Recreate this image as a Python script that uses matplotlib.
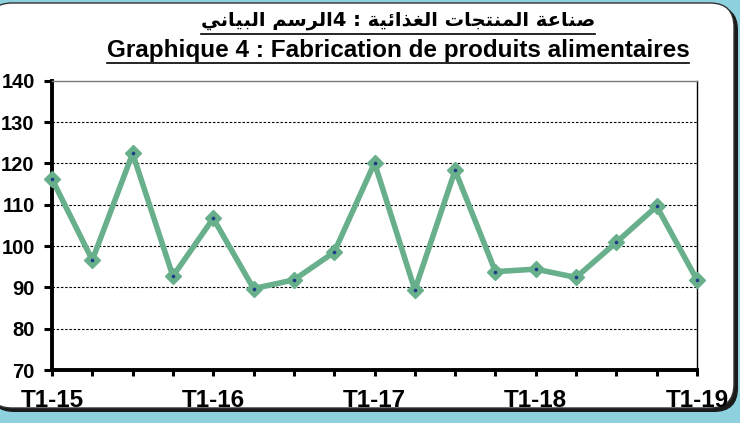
import matplotlib
matplotlib.use("Agg")
import matplotlib.pyplot as plt
from matplotlib.patches import FancyBboxPatch
from matplotlib.lines import Line2D

# ---------------- data ----------------
quarters = ["T1-15", "T2-15", "T3-15", "T4-15",
            "T1-16", "T2-16", "T3-16", "T4-16",
            "T1-17", "T2-17", "T3-17", "T4-17",
            "T1-18", "T2-18", "T3-18", "T4-18",
            "T1-19"]
values = [116.2, 96.6, 122.4, 92.7, 106.7, 89.7, 91.8, 98.5,
          120.1, 89.4, 118.3, 93.8, 94.4, 92.4, 100.9, 109.6, 91.8]
shown_labels = ["T1-15", "T1-16", "T1-17", "T1-18", "T1-19"]
y_ticks = [70, 80, 90, 100, 110, 120, 130, 140]

title_fr = "Graphique 4 : Fabrication de produits alimentaires"
title_ar = "صناعة المنتجات الغذائية : 4الرسم البياني"

LINE_COLOR = "#68af8b"

# ---------------- simple Arabic shaping (visual order) ----------------
FORMS = {  # iso, fin, ini, med
    "ص": ("\uFEB9", "\uFEBA", "\uFEBB", "\uFEBC"),
    "ن": ("\uFEE5", "\uFEE6", "\uFEE7", "\uFEE8"),
    "ا": ("\uFE8D", "\uFE8E", None, None),
    "ع": ("\uFEC9", "\uFECA", "\uFECB", "\uFECC"),
    "ة": ("\uFE93", "\uFE94", None, None),
    "ل": ("\uFEDD", "\uFEDE", "\uFEDF", "\uFEE0"),
    "م": ("\uFEE1", "\uFEE2", "\uFEE3", "\uFEE4"),
    "ت": ("\uFE95", "\uFE96", "\uFE97", "\uFE98"),
    "ج": ("\uFE9D", "\uFE9E", "\uFE9F", "\uFEA0"),
    "غ": ("\uFECD", "\uFECE", "\uFECF", "\uFED0"),
    "ذ": ("\uFEAB", "\uFEAC", None, None),
    "ئ": ("\uFE89", "\uFE8A", "\uFE8B", "\uFE8C"),
    "ي": ("\uFEF1", "\uFEF2", "\uFEF3", "\uFEF4"),
    "ر": ("\uFEAD", "\uFEAE", None, None),
    "س": ("\uFEB1", "\uFEB2", "\uFEB3", "\uFEB4"),
    "ب": ("\uFE8F", "\uFE90", "\uFE91", "\uFE92"),
}


def shape_word(w):
    out = []
    n = len(w)
    for i, ch in enumerate(w):
        if ch not in FORMS:
            out.append(ch)
            continue
        f = FORMS[ch]
        prev = w[i - 1] if i > 0 else None
        nxt = w[i + 1] if i < n - 1 else None
        pj = prev in FORMS and FORMS[prev][2] is not None
        nj = nxt in FORMS and f[2] is not None
        if pj and nj:
            g = f[3]
        elif pj:
            g = f[1]
        elif nj:
            g = f[2]
        else:
            g = f[0]
        out.append(g)
    return "".join(out[::-1])


def visual_arabic(s):
    runs = []
    cur = ""
    cur_kind = None
    for ch in s:
        kind = "ar" if ch in FORMS else ("d" if ch.isdigit() else "o")
        if cur and kind != cur_kind:
            runs.append((cur_kind, cur))
            cur = ""
        cur += ch
        cur_kind = kind
    if cur:
        runs.append((cur_kind, cur))
    vis = []
    for kind, txt in runs[::-1]:
        if kind == "ar":
            vis.append(shape_word(txt))
        elif kind == "d":
            vis.append(txt)
        else:
            vis.append(txt[::-1])
    return "".join(vis)


# ---------------- figure ----------------
fig = plt.figure(figsize=(7.4, 4.23), dpi=100)
fig.patch.set_facecolor("#8dd0de")

bg = fig.add_axes([0, 0, 1, 1], zorder=0)
bg.set_xlim(0, 740)
bg.set_ylim(423, 0)
bg.axis("off")
shadow = FancyBboxPatch((-10, 6), 748, 406,
                        boxstyle="round,pad=0,rounding_size=24",
                        facecolor="#1a1a1a", edgecolor="none")
bg.add_patch(shadow)
box = FancyBboxPatch((-12, 3), 746, 405,
                     boxstyle="round,pad=0,rounding_size=24",
                     facecolor="white", edgecolor="#333333", linewidth=1.0)
bg.add_patch(box)

ax = fig.add_axes([52 / 740, 1 - 370 / 423, (697 - 52) / 740, (370 - 80.7) / 423],
                  zorder=2)
ax.set_facecolor("none")
x = list(range(len(quarters)))
ax.plot(x, values, color=LINE_COLOR, linewidth=4.0, marker="D", markersize=8.5,
        markerfacecolor=LINE_COLOR, markeredgecolor=LINE_COLOR,
        solid_joinstyle="miter", zorder=3, clip_on=False)
ax.plot(x, values, linestyle="none", marker="o", markersize=1.6,
        color="#1f3c88", zorder=4, clip_on=False)

ax.set_xlim(0, len(quarters) - 1)
ax.set_ylim(70, 140)
ax.set_yticks(y_ticks)
ax.set_xticks(x)
ax.set_xticklabels([q if q in shown_labels else "" for q in quarters])

for yv in y_ticks[1:-1]:
    ax.axhline(yv, color="black", linewidth=0.8, linestyle=(0, (2.2, 1.6)), zorder=1)

for side in ["left", "bottom"]:
    ax.spines[side].set_linewidth(2.8)
    ax.spines[side].set_color("black")
ax.spines["right"].set_linewidth(1.0)
ax.spines["right"].set_color("black")
ax.spines["top"].set_linewidth(1.0)
ax.spines["top"].set_color("#7a7a7a")

ax.tick_params(axis="y", direction="out", length=5.5, width=2.2, pad=7,
               labelsize=14.5, colors="black")
ax.tick_params(axis="x", direction="out", length=4.5, width=2.2, pad=9,
               labelsize=17.5)
for lab in ax.get_yticklabels() + ax.get_xticklabels():
    lab.set_fontweight("bold")
    lab.set_fontfamily("Liberation Sans")

# titles
t_ar = fig.text(398 / 740, 1 - 21 / 423, visual_arabic(title_ar),
                ha="center", va="center", fontsize=14, fontweight="bold",
                family=["DejaVu Sans"])
t_fr = fig.text(398 / 740, 1 - 51 / 423, title_fr, ha="center", va="center",
                fontsize=17.5, fontweight="bold", family=["Liberation Sans"])

fig.canvas.draw()
r = fig.canvas.get_renderer()
for t, yline in [(t_ar, 33.5), (t_fr, 63.5)]:
    bb = t.get_window_extent(renderer=r)
    yl = 1 - yline / 423
    fig.add_artist(Line2D([bb.x0 / 740, bb.x1 / 740], [yl, yl],
                          color="black", linewidth=1.2,
                          transform=fig.transFigure))

fig.savefig("out.png", dpi=100, facecolor=fig.get_facecolor())
